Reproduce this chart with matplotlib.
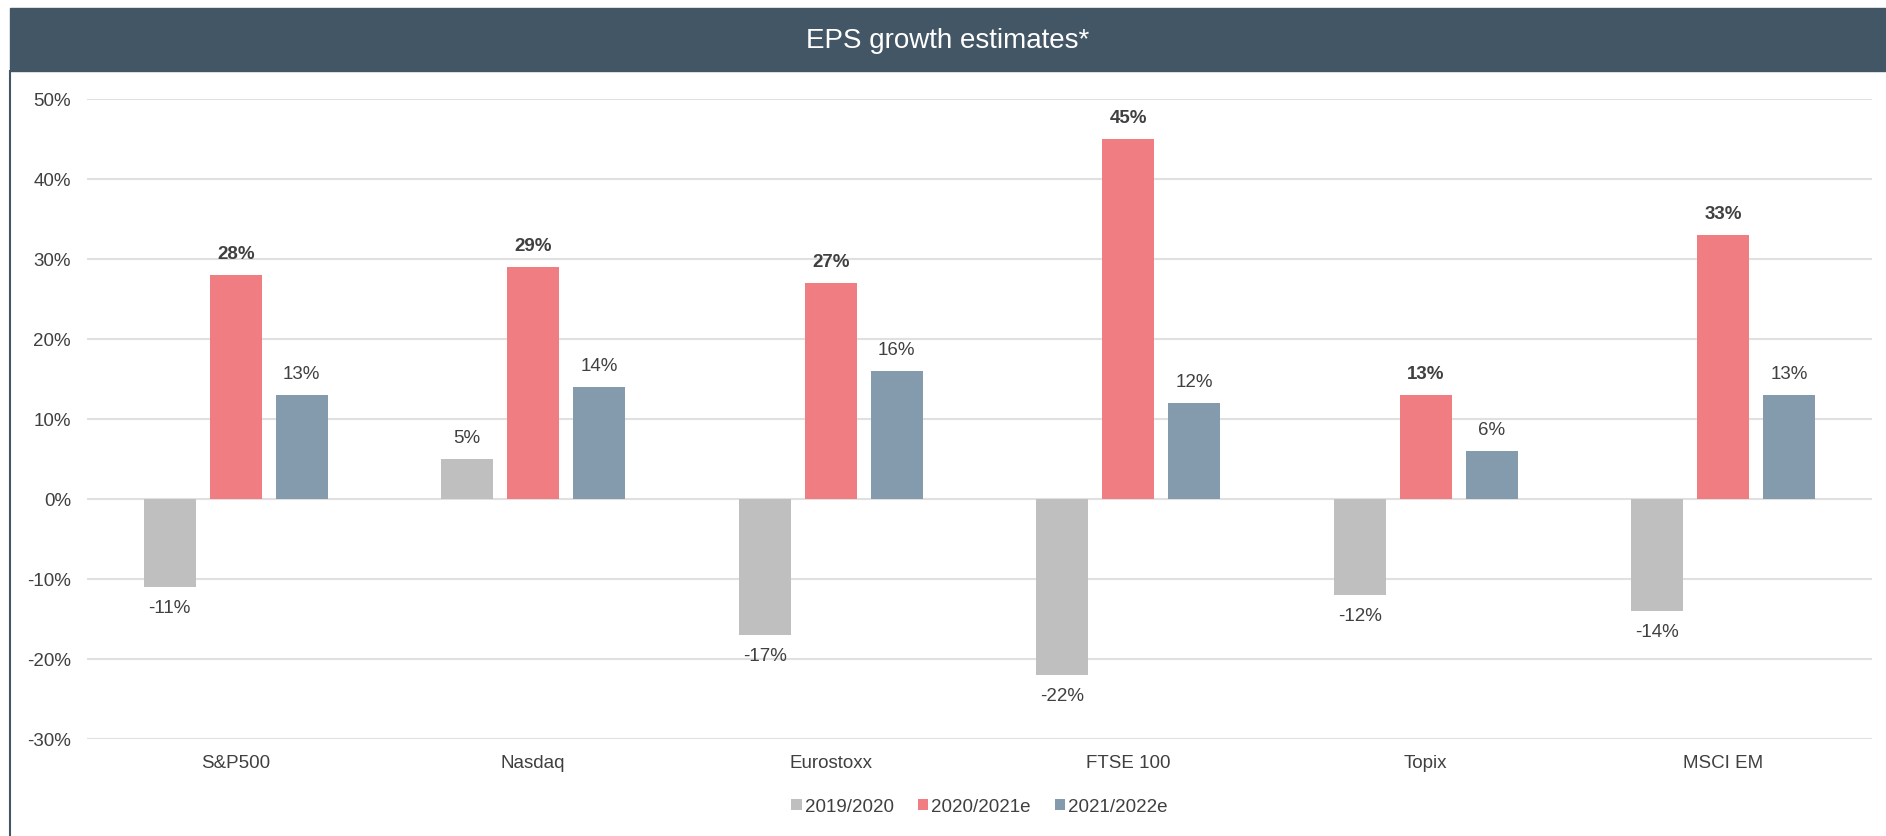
import matplotlib.pyplot as plt
import numpy as np
from matplotlib.patches import Rectangle
from matplotlib.lines import Line2D

plt.rcParams['font.family'] = ['Liberation Sans', 'DejaVu Sans']

# data
categories = ['S&P500', 'Nasdaq', 'Eurostoxx', 'FTSE 100', 'Topix', 'MSCI EM']
series_names = ['2019/2020', '2020/2021e', '2021/2022e']
eps_2019_2020 = [-11, 5, -17, -22, -12, -14]
eps_2020_2021 = [28, 29, 27, 45, 13, 33]
eps_2021_2022 = [13, 14, 16, 12, 6, 13]
yticks = [-30, -20, -10, 0, 10, 20, 30, 40, 50]

colors = ['#BFBFBF', '#F07D81', '#849BAE']
text_col = '#404040'
fs = 13.5

W, H = 1886, 837
fig = plt.figure(figsize=(W / 100, H / 100), dpi=100)

# title banner
fig.patches.append(Rectangle((10 / W, 1 - 72 / H), 1 - 10 / W, 63 / H,
                             transform=fig.transFigure, color='#435666', zorder=0))
fig.text((10 + W) / 2 / W, 1 - 41 / H, 'EPS growth estimates*', color='white',
         fontsize=20, ha='center', va='center')
# left border line
fig.lines.append(Line2D([10 / W, 10 / W], [0, 1 - 72 / H], transform=fig.transFigure,
                        color='#435666', lw=1.5))

ax = fig.add_axes([87 / W, 1 - 740 / H, (1872 - 87) / W, (740 - 100) / H])

x = np.arange(len(categories))
width = 0.175
offset = 0.222
all_series = [eps_2019_2020, eps_2020_2021, eps_2021_2022]
for i, vals in enumerate(all_series):
    xs = x + (i - 1) * offset
    ax.bar(xs, vals, width, color=colors[i], label=series_names[i], zorder=3)
    for xv, v in zip(xs, vals):
        weight = 'bold' if i == 1 else 'normal'
        if v >= 0:
            ax.annotate(f'{v}%', (xv, v), xytext=(0, 9), textcoords='offset points',
                        ha='center', va='bottom', fontsize=fs, color=text_col, fontweight=weight)
        else:
            ax.annotate(f'{v}%', (xv, v), xytext=(0, -9), textcoords='offset points',
                        ha='center', va='top', fontsize=fs, color=text_col, fontweight=weight)

ax.set_xlim(-0.5, len(categories) - 0.5)
ax.set_ylim(-30, 50)
ax.set_yticks(yticks)
ax.set_yticklabels([f'{t}%' for t in yticks])
ax.set_xticks(x)
ax.set_xticklabels(categories)
ax.tick_params(axis='both', length=0, labelsize=fs, labelcolor=text_col)
ax.tick_params(axis='y', pad=11.5)
ax.tick_params(axis='x', pad=11)
ax.grid(axis='y', color='#E0E0E0', lw=1.5, zorder=0)
for s in ax.spines.values():
    s.set_visible(False)

ax.legend(loc='center', bbox_to_anchor=(0.5, -0.106), ncol=3, frameon=False,
          fontsize=fs, handlelength=0.55, handleheight=0.55, handletextpad=0.15,
          columnspacing=1.3, labelcolor=text_col)

fig.savefig('out.png', dpi=100)
